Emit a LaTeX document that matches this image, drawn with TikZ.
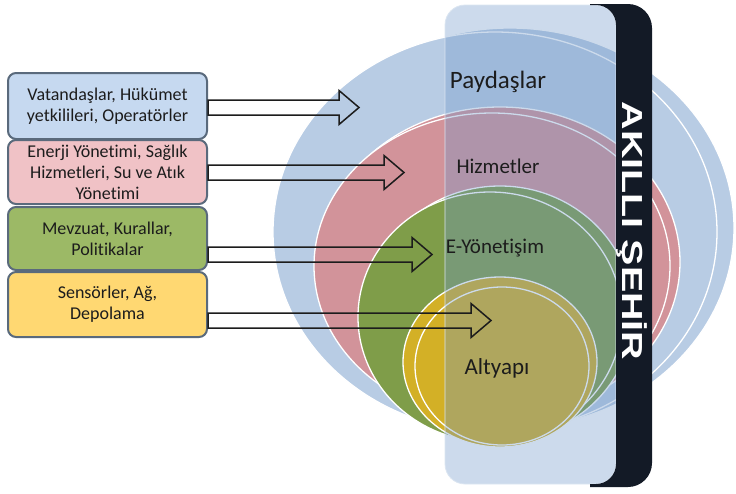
\documentclass[tikz,border=0pt]{standalone}
\usepackage{fontspec}
\setmainfont{Carlito}[RawFeature={-liga;-clig;-dlig;-calt}]
\newfontfamily\bandfont{Liberation Sans}
\usetikzlibrary{calc}

\definecolor{boxblue}{HTML}{C6D9F0}
\definecolor{boxpink}{HTML}{F0C2C6}
\definecolor{boxgreen}{HTML}{9CB966}
\definecolor{boxyellow}{HTML}{FFD872}
\definecolor{boxline}{HTML}{5A6A7C}
\definecolor{diskblue}{HTML}{B8CCE4}
\definecolor{diskpink}{HTML}{D2939A}
\definecolor{diskgreen}{HTML}{7F9D49}
\definecolor{diskyellow}{HTML}{D3B026}
\definecolor{panelblue}{RGB}{110,150,200}
\definecolor{bandblack}{HTML}{131A26}
\definecolor{inkdark}{HTML}{1C1C1C}

\tikzset{
  layerbox/.style={draw=boxline, line width=2pt, rounded corners=8pt,
    minimum width=199pt, align=center, text=inkdark,
    font=\fontsize{18}{21}\selectfont, inner sep=0pt},
  disk/.style={draw=white, line width=1.3pt},
  hollow/.style={draw=inkdark, line width=1.5pt, line join=miter},
  disklabel/.style={text=inkdark, inner sep=0pt},
}

\begin{document}
\begin{tikzpicture}[x=1pt, y=-1pt]
\useasboundingbox (0,0) rectangle (736,493);

% nested layers, each a back and a front disk
\fill[diskblue, disk] (510,228) ellipse [x radius=224, y radius=200];
\fill[diskblue, disk] (495,232) ellipse [x radius=222, y radius=200];
\fill[diskpink, disk] (500,262) ellipse [x radius=180, y radius=155];
\fill[diskpink, disk] (492,266) ellipse [x radius=178, y radius=153];
\fill[diskgreen, disk] (500,313) ellipse [x radius=133, y radius=127];
\fill[diskgreen, disk] (490,317) ellipse [x radius=132, y radius=125];
\fill[diskyellow, disk] (500,362) ellipse [x radius=97, y radius=85];
\fill[diskyellow, disk] (502,366) ellipse [x radius=87, y radius=79];

% translucent front face of the city panel
\fill[panelblue, fill opacity=0.35, rounded corners=20pt] (445,5) rectangle (616,484);
\draw[white!75!panelblue, line width=0.8pt, rounded corners=20pt] (445,5) rectangle (616,484);

% dark side edge of the panel
\begin{scope}
  \clip (590,0) rectangle (736,493);
  \fill[bandblack, even odd rule]
    [rounded corners=24pt] (560,4) rectangle (652,487)
    [rounded corners=20pt] (445,5) rectangle (616,484);
\end{scope}
\node[rotate=-90, anchor=base, text=white, inner sep=0pt] (city) at (622,231)
  {\scalebox{1.36}[1]{\bandfont\bfseries\fontsize{29}{29}\selectfont AKILLI ŞEHİR}};

% layer labels
\node[disklabel, font=\fontsize{25}{25}\selectfont] (l1) at (498,82) {Paydaşlar};
\node[disklabel, font=\fontsize{21}{21}\selectfont] (l2) at (498,166) {Hizmetler};
\node[disklabel, font=\fontsize{21}{21}\selectfont] (l3) at (495,248) {E-Yönetişim};
\node[disklabel, font=\fontsize{23}{23}\selectfont] (l4) at (497,368) {Altyapı};

% description boxes
\node[layerbox, fill=boxblue, minimum height=66pt] (b1) at (107.5,106)
  {Vatandaşlar, Hükümet\\yetkilileri, Operatörler};
\node[layerbox, fill=boxpink, minimum height=64pt] (b2) at (107.5,172)
  {Enerji Yönetimi, Sağlık\\Hizmetleri, Su ve Atık\\Yönetimi};
\node[layerbox, fill=boxgreen, minimum height=63pt] (b3) at (107.5,238.5)
  {Mevzuat, Kurallar,\\Politikalar};
\node[layerbox, fill=boxyellow, minimum height=65pt] (b4) at (107.5,304.5)
  {Sensörler, Ağ,\\Depolama};

% arrow tips and their start points on the boxes
\coordinate (t1) at (359,107.5);
\coordinate (t2) at (404,172.5);
\coordinate (t3) at (432,254.5);
\coordinate (t4) at (491,320.5);
\coordinate (s1) at (b1.east |- t1);
\coordinate (s2) at (b2.east |- t2);
\coordinate (s3) at (b3.east |- t3);
\coordinate (s4) at (b4.east |- t4);

% hollow block arrows from each box into its layer
\foreach \i in {1,2,3,4}{
  \draw[hollow] ([yshift=7.5pt]s\i) -- ([xshift=-20pt,yshift=7.5pt]t\i)
    -- ([xshift=-20pt,yshift=17pt]t\i) -- (t\i)
    -- ([xshift=-20pt,yshift=-17pt]t\i) -- ([xshift=-20pt,yshift=-7.5pt]t\i)
    -- ([yshift=-7.5pt]s\i) -- cycle;
}
\end{tikzpicture}
\end{document}
